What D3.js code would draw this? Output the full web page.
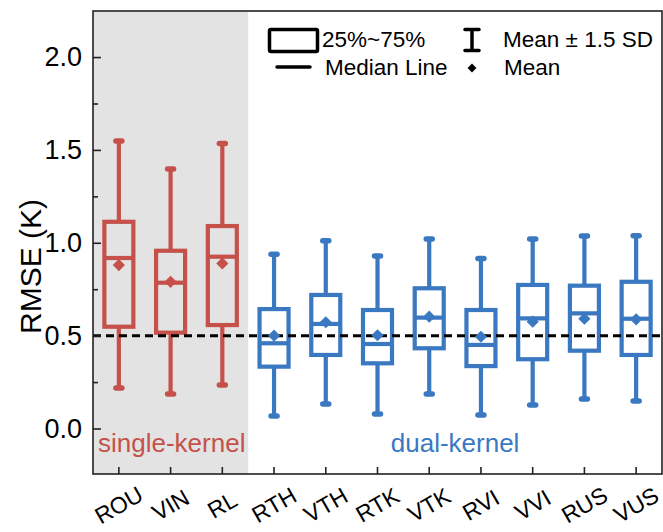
<!DOCTYPE html>
<html>
<head>
<meta charset="utf-8">
<script src="https://cdn.jsdelivr.net/npm/d3@7"></script>
<style>
  html, body { margin: 0; padding: 0; background: #fff; }
  svg { display: block; font-family: "Liberation Sans", Arial, sans-serif; }
</style>
</head>
<body>
<svg id="chart" width="663" height="532"></svg>
<script>
// ---- data ----
const categories = ["ROU","VIN","RL","RTH","VTH","RTK","VTK","RVI","VVI","RUS","VUS"];
const groups     = ["single","single","single","dual","dual","dual","dual","dual","dual","dual","dual"];
const q1         = [0.548,0.516,0.557,0.333,0.396,0.351,0.432,0.336,0.373,0.419,0.396];
const q3         = [1.113,0.957,1.090,0.643,0.719,0.638,0.755,0.638,0.773,0.769,0.790];
const medians    = [0.918,0.785,0.925,0.459,0.563,0.455,0.597,0.450,0.593,0.620,0.591];
const means      = [0.880,0.790,0.889,0.500,0.572,0.502,0.602,0.494,0.575,0.591,0.588];
const whiskerLo  = [0.218,0.186,0.234,0.067,0.132,0.078,0.186,0.073,0.126,0.159,0.148];
const whiskerHi  = [1.548,1.397,1.535,0.938,1.011,0.929,1.020,0.916,1.020,1.036,1.038];
const yMajorTicks = [0.0, 0.5, 1.0, 1.5, 2.0];
const yMinorTicks = [0.25, 0.75, 1.25, 1.75];
const referenceValue = 0.5;
const groupLabels = { single: "single-kernel", dual: "dual-kernel" };

const colors = { single: "#c5514a", dual: "#3a78c2" };

// ---- layout ----
const L = 93, R = 662, T = 11, B = 474;
const svg = d3.select("#chart");

const x = d3.scaleBand().domain(categories).range([L, R]).padding(0);
const y = d3.scaleLinear().domain([-0.245, 2.248]).range([B, T]);
const cx = c => x(c) + x.bandwidth() / 2;

const rows = categories.map((c, i) => ({
  cat: c, group: groups[i], q1: q1[i], q3: q3[i], med: medians[i],
  mean: means[i], lo: whiskerLo[i], hi: whiskerHi[i]
}));

// gray background for single-kernel region
const singleCats = categories.filter((c, i) => groups[i] === "single");
const grayRight = x(singleCats[singleCats.length - 1]) + x.bandwidth();
svg.append("rect")
  .attr("x", L).attr("y", T)
  .attr("width", grayRight - L).attr("height", B - T)
  .attr("fill", "#e3e3e3");

// group labels
svg.append("text")
  .attr("x", L + 5).attr("y", 452)
  .attr("font-size", 26).attr("fill", colors.single)
  .text(groupLabels.single);
const dualCats = categories.filter((c, i) => groups[i] === "dual");
svg.append("text")
  .attr("x", (cx(dualCats[0]) + cx(dualCats[dualCats.length - 1])) / 2)
  .attr("y", 452).attr("text-anchor", "middle")
  .attr("font-size", 26).attr("fill", colors.dual)
  .text(groupLabels.dual);

// boxes
const boxW = 29;
const g = svg.append("g");
rows.forEach(d => {
  const col = colors[d.group];
  const xc = cx(d.cat);
  const gg = g.append("g").attr("stroke", col).attr("fill", "none").attr("stroke-width", 4.2);
  // whiskers
  gg.append("line").attr("x1", xc).attr("x2", xc).attr("y1", y(d.q3)).attr("y2", y(d.hi));
  gg.append("line").attr("x1", xc).attr("x2", xc).attr("y1", y(d.q1)).attr("y2", y(d.lo));
  // caps
  [d.hi, d.lo].forEach(v => {
    gg.append("line").attr("x1", xc - 3).attr("x2", xc + 3)
      .attr("y1", y(v)).attr("y2", y(v))
      .attr("stroke-width", 5.5).attr("stroke-linecap", "round");
  });
  // box
  gg.append("rect").attr("x", xc - boxW / 2).attr("y", y(d.q3))
    .attr("width", boxW).attr("height", y(d.q1) - y(d.q3));
  // median
  gg.append("line").attr("x1", xc - boxW / 2).attr("x2", xc + boxW / 2)
    .attr("y1", y(d.med)).attr("y2", y(d.med));
});

// reference dashed line
svg.append("line")
  .attr("x1", L).attr("x2", R)
  .attr("y1", y(referenceValue)).attr("y2", y(referenceValue))
  .attr("stroke", "#000").attr("stroke-width", 3)
  .attr("stroke-dasharray", "8,5");

// mean diamonds
const diamond = d3.symbol().type(d3.symbolDiamond2).size(95);
rows.forEach(d => {
  svg.append("path")
    .attr("d", diamond())
    .attr("transform", `translate(${cx(d.cat)},${y(d.mean)})`)
    .attr("fill", colors[d.group]);
});

// frame
svg.append("rect").attr("x", L).attr("y", T)
  .attr("width", R - L).attr("height", B - T)
  .attr("fill", "none").attr("stroke", "#222").attr("stroke-width", 1.6);

// y axis
const yAxis = d3.axisLeft(y).tickValues(yMajorTicks)
  .tickFormat(d3.format(".1f")).tickSize(-8).tickPadding(11);
const yg = svg.append("g").attr("transform", `translate(${L},0)`).call(yAxis);
yg.select(".domain").remove();
yg.selectAll(".tick line").attr("stroke", "#222").attr("stroke-width", 1.6);
yg.selectAll(".tick text").attr("font-size", 27).attr("fill", "#000")
  .attr("font-family", "Liberation Sans, Arial, sans-serif");

const yMinor = d3.axisLeft(y).tickValues(yMinorTicks).tickSize(-5).tickFormat("");
const ymg = svg.append("g").attr("transform", `translate(${L},0)`).call(yMinor);
ymg.select(".domain").remove();
ymg.selectAll(".tick line").attr("stroke", "#222").attr("stroke-width", 1.6);

// x axis
const xAxis = d3.axisBottom(x).tickSize(-7).tickFormat("");
const xg = svg.append("g").attr("transform", `translate(0,${B})`).call(xAxis);
xg.select(".domain").remove();
xg.selectAll(".tick line").attr("stroke", "#222").attr("stroke-width", 1.6);

// rotated x labels
svg.append("g").selectAll("text").data(categories).join("text")
  .attr("transform", c => `translate(${cx(c)},${505}) rotate(-30)`)
  .attr("text-anchor", "middle").attr("dominant-baseline", "central")
  .attr("font-size", 23).attr("fill", "#000")
  .text(c => c);

// y title
svg.append("text")
  .attr("transform", `translate(30,${(T + B) / 2 + 24}) rotate(-90)`)
  .attr("text-anchor", "middle").attr("dominant-baseline", "central")
  .attr("font-size", 30).attr("fill", "#000")
  .text("RMSE (K)");

// legend
const lg = svg.append("g").attr("font-size", 22.5).attr("fill", "#000");
lg.append("rect").attr("x", 269.5).attr("y", 29.5).attr("width", 48).attr("height", 22)
  .attr("fill", "none").attr("stroke", "#000").attr("stroke-width", 3.5).attr("rx", 1.5);
lg.append("text").attr("x", 322).attr("y", 47).text("25%~75%");
lg.append("line").attr("x1", 277).attr("x2", 310).attr("y1", 67).attr("y2", 67)
  .attr("stroke", "#000").attr("stroke-width", 3.5).attr("stroke-linecap", "round");
lg.append("text").attr("x", 325).attr("y", 75).text("Median Line");
// I-bar
const ib = lg.append("g").attr("stroke", "#000").attr("stroke-width", 3.5);
ib.append("line").attr("x1", 472).attr("x2", 472).attr("y1", 29).attr("y2", 50.5);
ib.append("line").attr("x1", 465).attr("x2", 479).attr("y1", 29.5).attr("y2", 29.5).attr("stroke-linecap", "round");
ib.append("line").attr("x1", 465).attr("x2", 479).attr("y1", 50.5).attr("y2", 50.5).attr("stroke-linecap", "round");
lg.append("text").attr("x", 503).attr("y", 47).text("Mean \u00b1 1.5 SD");
lg.append("path").attr("d", d3.symbol().type(d3.symbolDiamond2).size(50)())
  .attr("transform", "translate(472,68)").attr("fill", "#000");
lg.append("text").attr("x", 504).attr("y", 75).text("Mean");
</script>
</body>
</html>
